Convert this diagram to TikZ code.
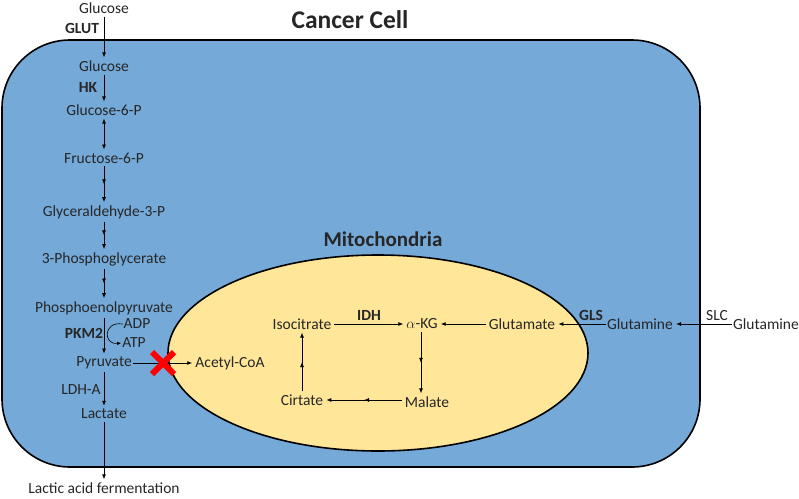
\documentclass[tikz,border=0pt]{standalone}
\usepackage{fontspec}
\setmainfont{Carlito}
\usetikzlibrary{arrows.meta,decorations.markings}

\definecolor{cellblue}{RGB}{116,169,216}
\definecolor{mitoyellow}{RGB}{255,230,153}
\definecolor{txt}{RGB}{38,38,38}

\tikzset{
  metab/.style={font=\fontsize{15.5}{17}\selectfont, text=txt, inner sep=1pt},
  enz/.style={font=\fontsize{15.5}{17}\selectfont\bfseries, text=txt, inner sep=1pt},
  conn/.style={draw=black, line width=0.8pt, shorten <=2pt, shorten >=2pt, -{Latex[length=5pt,width=4pt]}},
  midarrow/.style={postaction={decorate},
    decoration={markings, mark=at position 0.5 with {\arrow{Latex[length=5pt,width=4pt]}}}},
}

\begin{document}
\begin{tikzpicture}[x=1pt,y=-1pt]
    \useasboundingbox (0,0) rectangle (799,498);

    % Cell and mitochondria
    \draw[line width=1.6pt, fill=cellblue, rounded corners=68pt] (2,40) rectangle (700,467);
    \draw[line width=1.6pt, fill=mitoyellow] (378,353) ellipse [x radius=210, y radius=98];
    \node[font=\fontsize{25.5}{28}\selectfont\bfseries, text=txt] (celltitle) at (350,20) {Cancer Cell};
    \node[font=\fontsize{21}{24}\selectfont\bfseries, text=txt] (mitotitle) at (383,239) {Mitochondria};

    % Parameters
    \def\colx{104} % x of the glycolysis column

    % Glycolysis column
    \foreach \name/\y/\label in {glcout/8/Glucose, glc/66/Glucose, g6p/110/Glucose-6-P,
        f6p/158/Fructose-6-P, gap/212/Glyceraldehyde-3-P, pg/259/3-Phosphoglycerate,
        pep/308/Phosphoenolpyruvate, pyr/363/Pyruvate, lac/414/Lactate,
        ferm/488/Lactic acid fermentation}
        \node[metab] (\name) at (\colx,\y) {\label};

    % Enzymes and cofactors
    \node[enz] (glut) at (82,28) {GLUT};
    \node[enz] (hk) at (88,87) {HK};
    \node[enz] (pkm) at (84,333) {PKM2};
    \node[metab] (adp) at (137,324) {ADP};
    \node[metab] (atp) at (134,343) {ATP};
    \node[metab] (ldha) at (81,390) {LDH-A};
    \node[metab] (acoa) at (230,363) {Acetyl-CoA};

    % Glycolysis arrows
    \draw[conn] (glcout) -- (glc);
    \draw[conn] (glc) -- (g6p);
    \draw[conn, {Latex[length=5pt,width=4pt]}-{Latex[length=5pt,width=4pt]}] (g6p) -- (f6p);
    \draw[conn, midarrow] (f6p) -- (gap);
    \draw[conn, midarrow] (gap) -- (pg);
    \draw[conn, midarrow] (pg) -- (pep);
    \draw[conn] (pep) -- (pyr);
    \draw[conn] (pyr) -- (lac);
    \draw[conn] (lac) -- (ferm);
    \draw[line width=0.6pt, -{Latex[length=4pt,width=3.5pt]}] (adp.west) .. controls (103,321) and (103,345) .. (atp.west);

    % Pyruvate into mitochondria (blocked)
    \draw[conn, shorten <=0pt] (pyr) -- (acoa);
    \coordinate (block) at (163,363);
    \draw[red, line width=6pt] ([shift={(-11,-11)}]block) -- ([shift={(11,11)}]block)
        ([shift={(-11,11)}]block) -- ([shift={(11,-11)}]block);

    % TCA part and glutaminolysis
    \node[metab] (isocitrate) at (302,324) {Isocitrate};
    \node[metab] (akg) at (422,324) {$\alpha$-KG};
    \node[metab] (glutamate) at (522,324) {Glutamate};
    \node[metab] (glnin) at (640,324) {Glutamine};
    \node[metab] (glnout) at (766,324) {Glutamine};
    \node[metab] (malate) at (427,402) {Malate};
    \node[metab] (cirtate) at (302,400) {Cirtate};
    \node[enz] (idh) at (369,315) {IDH};
    \node[enz] (gls) at (591,315) {GLS};
    \node[metab] (slc) at (717,316) {SLC};

    \draw[conn] (isocitrate) -- (akg);
    \draw[conn] (glutamate) -- (akg);
    \draw[conn, shorten <=0pt] (glnin) -- (glutamate);
    \draw[conn, shorten <=0pt] (glnout) -- (glnin);
    \draw[conn, midarrow] (akg.south -| 421,0) -- (malate.north -| 421,0);
    \draw[conn, midarrow] (malate.west |- cirtate) -- (cirtate);
    \draw[conn, midarrow] (cirtate) -- (isocitrate);
\end{tikzpicture}
\end{document}
